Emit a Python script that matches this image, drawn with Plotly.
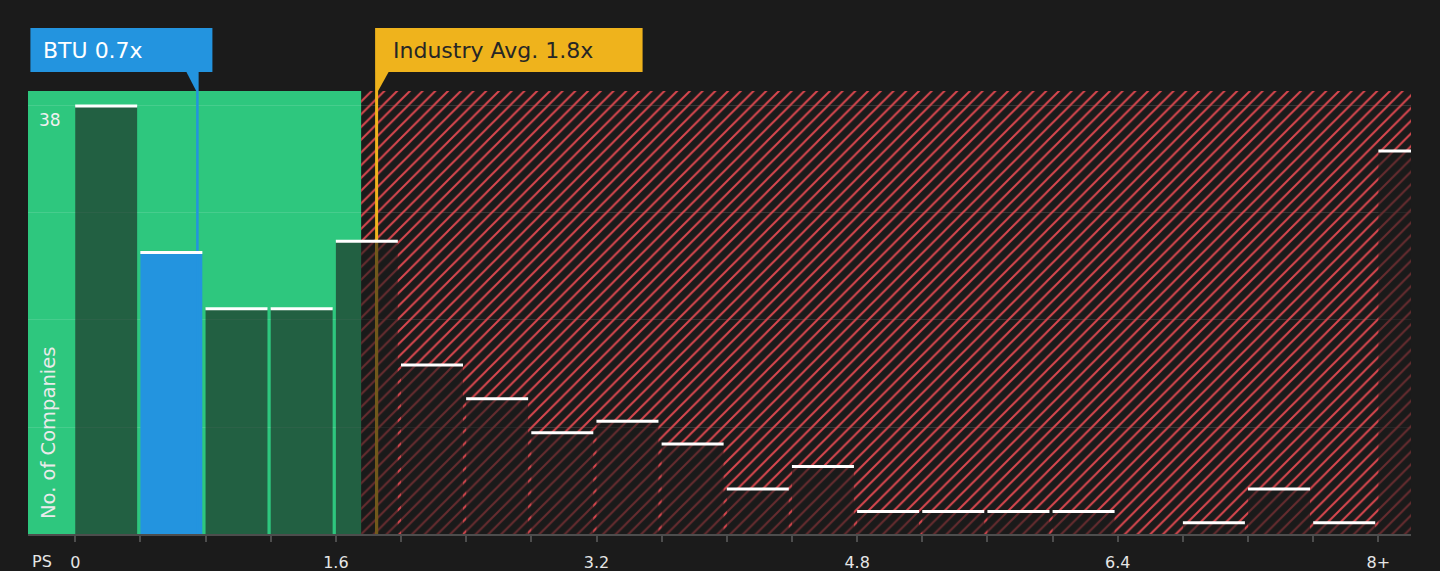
import plotly.graph_objects as go

# price-to-sales histogram, bins of 0.4 (last bin is 8+)
bin_starts = [0.0, 0.4, 0.8, 1.2, 1.6, 2.0, 2.4, 2.8, 3.2, 3.6, 4.0,
              4.4, 4.8, 5.2, 5.6, 6.0, 6.4, 6.8, 7.2, 7.6, 8.0]
counts = [38, 25, 20, 20, 26, 15, 12, 9, 10, 8, 4,
          6, 2, 2, 2, 2, 0, 1, 4, 1, 34]
tick_labels = ["0", "", "", "", "1.6", "", "", "", "3.2", "", "", "",
               "4.8", "", "", "", "6.4", "", "", "", "8+"]
grid_vals = [0, 9.5, 19, 28.5, 38]

company_ps = 0.75
company_label = "BTU 0.7x"
industry_ps = 1.85
industry_label = "Industry Avg. 1.8x"
fair_limit = 1.755

BG = "#1b1b1b"
GREEN = "#2ec77e"
BLUE = "#2394df"
GOLD = "#efb31c"
RED = "#d9474e"
SHADE = "rgba(27,27,27,0.6)"
X_RANGE = [-0.29, 8.2]
Y_TOP = 39.33
BAR_W = 0.38
step = bin_starts[1] - bin_starts[0]


def bin_count(v):
    for s, c in zip(bin_starts, counts):
        if s <= v < s + step:
            return c
    return 0


fig = go.Figure()

# hatched "overvalued" zone
fig.add_trace(go.Bar(x=[fair_limit], y=[Y_TOP], width=[X_RANGE[1] - fair_limit], offset=0,
                     marker=dict(color="rgba(0,0,0,0)", line_width=0,
                                 pattern=dict(shape="/", fgcolor=RED, bgcolor="rgba(0,0,0,0)",
                                              size=9, solidity=0.22, fillmode="replace"))))

colors = [BLUE if s <= company_ps < s + step else SHADE for s in bin_starts]
fig.add_trace(go.Bar(x=bin_starts, y=counts, width=BAR_W, offset=0,
                     marker=dict(color=colors, line_width=0)))

# company / industry marker lines, shaded where they pass behind a bar
fig.add_trace(go.Scatter(x=[company_ps, company_ps], y=[0, Y_TOP], mode="lines",
                         line=dict(color=BLUE, width=2.5)))
fig.add_trace(go.Scatter(x=[industry_ps, industry_ps], y=[0, Y_TOP], mode="lines",
                         line=dict(color=GOLD, width=3)))
fig.add_trace(go.Scatter(x=[industry_ps, industry_ps], y=[0, bin_count(industry_ps)],
                         mode="lines", line=dict(color=SHADE, width=3)))

# white caps on top of each bar
cap_x = [s + BAR_W / 2 for s, c in zip(bin_starts, counts) if c > 0]
cap_y = [c for c in counts if c > 0]
fig.add_trace(go.Scatter(x=cap_x, y=cap_y, mode="markers",
                         marker=dict(symbol="line-ew", size=44.3,
                                     line=dict(color="white", width=3))))

shapes = [
    dict(type="rect", xref="x", yref="paper", x0=X_RANGE[0], x1=fair_limit, y0=0, y1=1,
         fillcolor=GREEN, line_width=0, layer="below"),
    dict(type="rect", xref="x", xsizemode="pixel", xanchor=company_ps, x0=-167, x1=15,
         yref="paper", ysizemode="pixel", yanchor=1, y0=19, y1=63,
         fillcolor=BLUE, line_width=0),
    dict(type="path", xref="x", xsizemode="pixel", xanchor=company_ps,
         yref="paper", ysizemode="pixel", yanchor=1,
         path="M-11,19 L1.2,19 L1.2,0 L-1.2,0 Z", fillcolor=BLUE, line_width=0),
    dict(type="rect", xref="x", xsizemode="pixel", xanchor=industry_ps, x0=-1.5, x1=266,
         yref="paper", ysizemode="pixel", yanchor=1, y0=19, y1=63,
         fillcolor=GOLD, line_width=0),
    dict(type="path", xref="x", xsizemode="pixel", xanchor=industry_ps,
         yref="paper", ysizemode="pixel", yanchor=1,
         path="M-1.5,19 L12,19 L1.5,0 L-1.5,0 Z", fillcolor=GOLD, line_width=0),
]

annotations = [
    dict(text=company_label, xref="x", x=company_ps, xanchor="left", xshift=-156,
         yref="paper", y=1, yanchor="middle", yshift=41, showarrow=False,
         font=dict(size=22, color="white")),
    dict(text=industry_label, xref="x", x=industry_ps, xanchor="left", xshift=14,
         yref="paper", y=1, yanchor="middle", yshift=41, showarrow=False,
         font=dict(size=22, color="#262626")),
    dict(text="38", xref="paper", x=0, xanchor="left", xshift=9,
         yref="y", y=38, yanchor="top", yshift=-2, showarrow=False,
         font=dict(size=17, color="#f0f0f0")),
    dict(text="No. of Companies", textangle=-90, xref="paper", x=0, xanchor="center", xshift=20,
         yref="paper", y=0, yanchor="bottom", yshift=13, showarrow=False,
         font=dict(size=19.5, color="#eaeaea")),
    dict(text="PS", xref="paper", x=0, xanchor="center", xshift=14,
         yref="paper", y=0, yanchor="middle", yshift=-27, showarrow=False,
         font=dict(size=16, color="#e6e6e6")),
]

fig.update_layout(width=1440, height=571,
                  margin=dict(l=28, r=29, t=91, b=37),
                  paper_bgcolor=BG, plot_bgcolor=BG,
                  barmode="overlay", showlegend=False, hovermode=False,
                  font=dict(family="DejaVu Sans", color="#e6e6e6"),
                  shapes=shapes, annotations=annotations)
fig.update_xaxes(range=X_RANGE, tickvals=bin_starts, ticktext=tick_labels,
                 ticks="outside", ticklen=6, tickwidth=2, tickcolor="#4d4d4d",
                 ticklabelstandoff=7, automargin=False,
                 showline=True, linecolor="#4d4d4d", linewidth=2,
                 showgrid=False, zeroline=False, tickfont=dict(size=16, color="#e6e6e6"))
fig.update_yaxes(range=[0, Y_TOP], tickvals=grid_vals, showticklabels=False,
                 showgrid=True, gridcolor="rgba(255,255,255,0.12)", gridwidth=1,
                 zeroline=False, automargin=False)

fig.write_html("out.html", config={"displayModeBar": False},
               post_script="document.body.style.margin='0';")
